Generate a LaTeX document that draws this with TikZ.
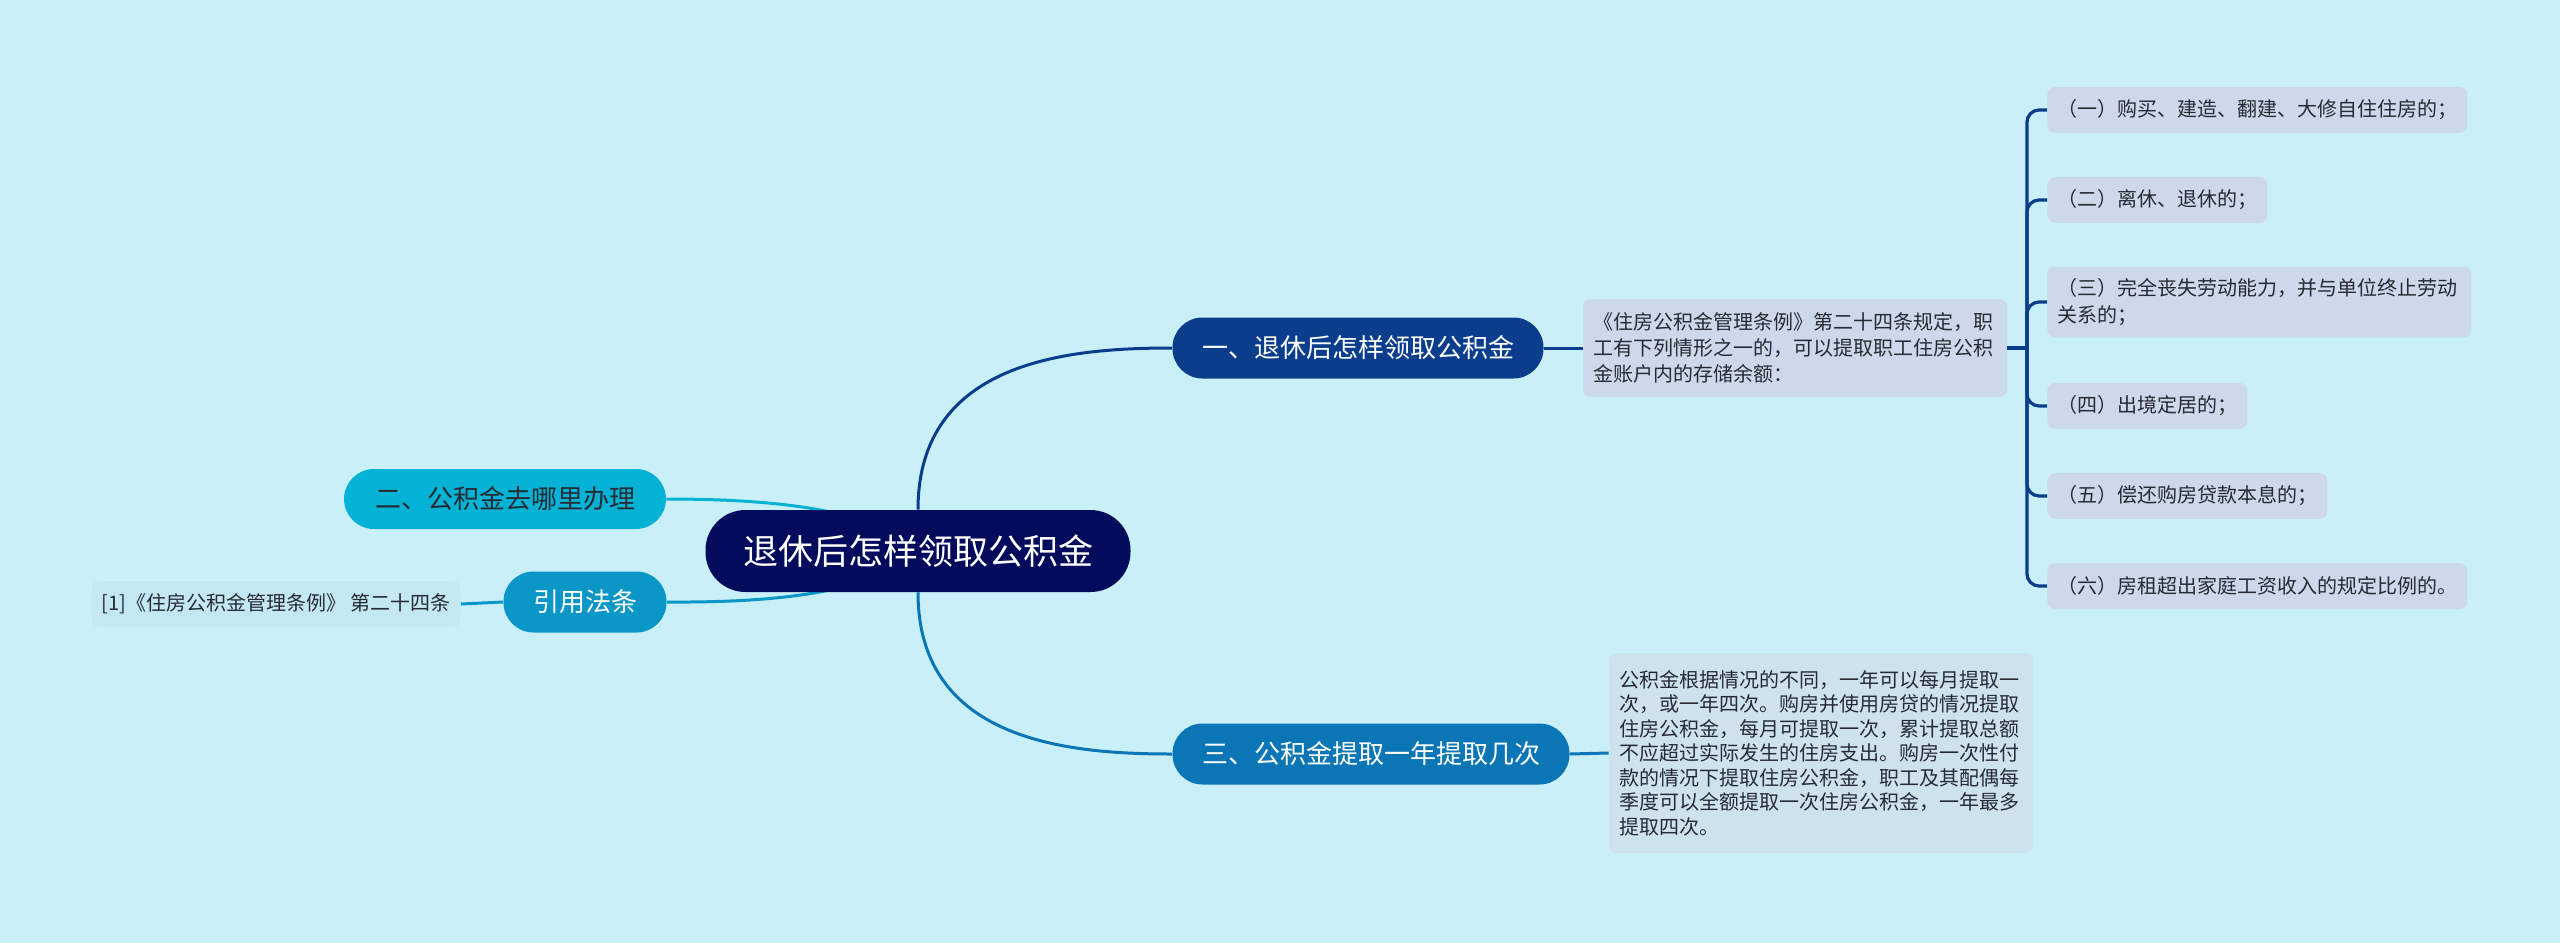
\documentclass[tikz,border=0pt]{standalone}
\usepackage{fontspec}
\setmainfont{Noto Sans CJK SC}
\usetikzlibrary{positioning, calc}
\definecolor{bgcyan}{HTML}{C9F0F8}
\definecolor{rootnavy}{HTML}{020B5C}
\definecolor{navyone}{HTML}{0A3E8C}
\definecolor{bluethree}{HTML}{0A76B6}
\definecolor{cyantwo}{HTML}{04B2D6}
\definecolor{citeblue}{HTML}{0A97C8}
\definecolor{leafgray}{HTML}{CDD8EA}
\definecolor{leafblue}{HTML}{CEE2EE}
\definecolor{refcyan}{HTML}{C3E8F2}
\definecolor{inkdark}{HTML}{262B33}
\pgfdeclarelayer{bg}
\pgfdeclarelayer{edges}
\pgfsetlayers{bg,edges,main}
\tikzset{topic/.style={rounded corners=20pt,fill=rootnavy,text=white,minimum width=212.5pt,
        minimum height=41pt,inner sep=0pt,font=\fontsize{17.5}{20}\selectfont},
    branch/.style={rounded corners=15pt,minimum height=30.5pt,inner sep=0pt,text=white,
        font=\fontsize{13}{15}\selectfont},
    leafbox/.style={rounded corners=4pt,fill=leafgray,text=inkdark,inner xsep=5pt,inner ysep=0pt,
        align=left,font=\fontsize{10}{13}\selectfont},
    item/.style={leafbox,anchor=west,minimum height=23pt},
    link/.style={draw,line width=1.5pt},
    bracket/.style={draw,line width=1.6pt,navyone,rounded corners=6pt}}

\begin{document}
\begin{tikzpicture}[x=0.5pt,y=-0.5pt]
\begin{pgfonlayer}{bg}
\fill[bgcyan] (0,0) rectangle (2560,943);
\end{pgfonlayer}
\useasboundingbox (0,0) rectangle (2560,943);

% central topic and main branches
\node[topic] (root) at (918,551) {退休后怎样领取公积金};
\node[branch,fill=navyone,minimum width=185.5pt] (how) at (1358,348) {一、退休后怎样领取公积金};
\node[branch,fill=bluethree,minimum width=198.5pt] (often) at (1371,754) {三、公积金提取一年提取几次};
\node[branch,fill=cyantwo,text=inkdark,minimum width=161pt,minimum height=30pt] (where) at (505,499) {二、公积金去哪里办理};
\node[branch,fill=citeblue,minimum width=81.5pt] (cite) at (585,602) {引用法条};

% leaves
\node[leafbox,fill=refcyan,minimum height=23pt] (ref) at (276,604) {[1]《住房公积金管理条例》 第二十四条};
\node[leafbox,text width=202pt,minimum height=49pt] (rule) at (1795,348)
    {《住房公积金管理条例》第二十四条规定，职\\工有下列情形之一的，可以提取职工住房公积\\金账户内的存储余额：};
\node[leafbox,fill=leafblue,text width=202pt,minimum height=100pt,
    font=\fontsize{10}{12.25}\selectfont] (freq) at (1821,753)
    {公积金根据情况的不同，一年可以每月提取一\\次，或一年四次。购房并使用房贷的情况提取\\住房公积金，每月可提取一次，累计提取总额\\不应超过实际发生的住房支出。购房一次性付\\款的情况下提取住房公积金，职工及其配偶每\\季度可以全额提取一次住房公积金，一年最多\\提取四次。};

% the six cases
\node[item] (case1) at (2047,110) {（一）购买、建造、翻建、大修自住住房的；};
\node[item] (case2) at (2047,200) {（二）离休、退休的；};
\node[item,text width=202pt,minimum height=35.5pt,font=\fontsize{10}{13.3}\selectfont] (case3) at (2047,302)
    {（三）完全丧失劳动能力，并与单位终止劳动\\关系的；};
\node[item] (case4) at (2047,406) {（四）出境定居的；};
\node[item] (case5) at (2047,496) {（五）偿还购房贷款本息的；};
\node[item] (case6) at (2047,586) {（六）房租超出家庭工资收入的规定比例的。};
\coordinate (fork) at (2027,348);

% connectors
\begin{pgfonlayer}{edges}
\draw[link,navyone] (root.north) .. controls (918,360) and (1070,348) .. (how.west);
\draw[link,bluethree] (root.south) .. controls (918,742) and (1070,754) .. (often.west);
\draw[link,cyantwo] (where.east) .. controls (800,499) and (880,515) .. (root.center);
\draw[link,citeblue] (cite.east) .. controls (800,603) and (880,587) .. (root.center);
\end{pgfonlayer}
\draw[link,citeblue] (cite.west) -- (ref.east);
\draw[link,navyone] (how.east) -- (rule.west);
\draw[link,bluethree] (often.east) -- (freq.west);
\draw[bracket] (rule.east) -- (fork);
\foreach \c in {case1,case2,case3,case4,case5,case6}
    \draw[bracket] (fork) |- (\c.west);
\end{tikzpicture}
\end{document}
